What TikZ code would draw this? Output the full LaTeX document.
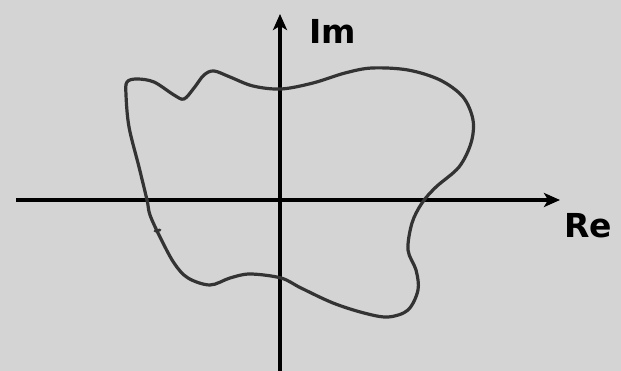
\documentclass[tikz,border=0pt]{standalone}
\usepackage{fontspec}
\setmainfont{DejaVu Sans}
\usetikzlibrary{arrows.meta}
\begin{document}
\begin{tikzpicture}[x=1pt,y=-1pt,
  axis/.style={line width=3.2pt,draw=black,-{Stealth[length=16pt,width=14pt,inset=4pt]}},
  contour/.style={line width=3.2pt,draw=black!80,line join=round},
  lbl/.style={font=\fontsize{33}{33}\selectfont\bfseries,inner sep=0pt}]
\fill[black!17] (0,0) rectangle (621,371);
\useasboundingbox (0,0) rectangle (621,371);
\coordinate (xs) at (16,200);
\coordinate (xe) at (560,200);
\coordinate (ys) at (280,371);
\coordinate (ye) at (280,14);
\draw[axis] (xs) -- (xe);
\draw[axis] (ys) -- (ye);
\node[lbl] (im) at (333,31) {Im};
\node[lbl] (re) at (588,226) {Re};
\draw[contour] plot[smooth cycle,tension=0.55] coordinates {
 (127,82) (137,79) (154,82) (174,95) (184,99) (194,88) (204,75) (214,71)
 (230,77) (253,86) (281,89) (313,83) (345,73) (372,68) (408,70) (440,80)
 (463,97) (473,120) (471,143) (459,167) (436,187) (422,203) (412,223)
 (408,250) (416,270) (418,290) (408,310) (388,317) (364,313) (333,303)
 (301,288) (281,278) (250,274) (230,278) (210,285) (188,278) (174,263)
 (160,237) (150,215) (147,200) (139,167) (129,127) (126,95)};
\coordinate (tk) at (155,231);
\draw[line width=2.8pt,black!80,line cap=round] (tk) -- ++(5,-1);
\end{tikzpicture}
\end{document}
